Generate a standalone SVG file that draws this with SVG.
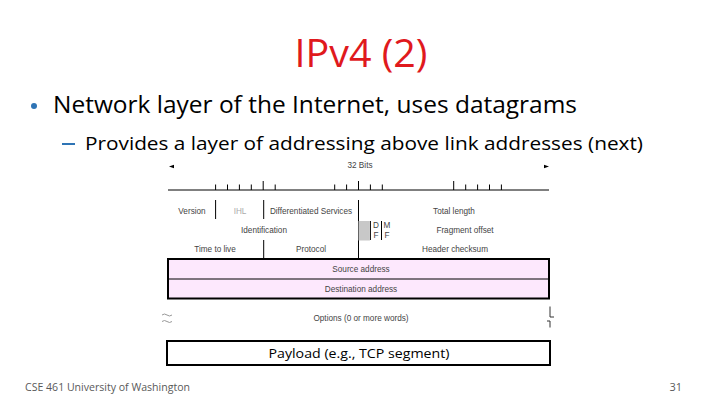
<svg xmlns="http://www.w3.org/2000/svg" width="720" height="405" viewBox="0 0 720 405">
<style>
  .title{font-family:"Open Sans","Noto Sans",sans-serif;font-size:39px;fill:#e0191d}
  .b1{font-family:"Open Sans","Noto Sans",sans-serif;font-size:23px;fill:#000}
  .b2{font-family:"Open Sans","Noto Sans",sans-serif;font-size:19px;fill:#000}
  .f{font-family:"Liberation Sans",Arial,sans-serif;font-size:8.2px;fill:#444;text-anchor:middle}
  .lt{fill:#aaa}
  .tk{stroke:#000;stroke-width:1}
  .dv{stroke:#000;stroke-width:1}
  .foot{font-family:"Open Sans","Noto Sans",sans-serif;font-size:11px;fill:#595959}
  .box{stroke:#000;stroke-width:2}
</style>
<rect width="720" height="405" fill="#fff"/>
<g id="title"><text class="title" x="361" y="67" text-anchor="middle" textLength="133" lengthAdjust="spacingAndGlyphs">IPv4 (2)</text></g>
<g id="bullet1">
  <circle cx="34" cy="106" r="3" fill="#2e74b5"/>
  <text class="b1" x="53" y="113" textLength="524" lengthAdjust="spacingAndGlyphs">Network layer of the Internet, uses datagrams</text>
</g>
<g id="bullet2">
  <rect x="62" y="143" width="13" height="2" fill="#2e74b5"/>
  <text class="b2" x="85" y="150" textLength="558" lengthAdjust="spacingAndGlyphs">Provides a layer of addressing above link addresses (next)</text>
</g>
<g id="ruler">
  <text class="f" x="360" y="168">32 Bits</text>
  <polygon points="169,166.5 174,164.8 174,168.2" fill="#000"/>
  <polygon points="549,166.5 544,164.8 544,168.2" fill="#000"/>
  <line class="tk" x1="168" y1="190" x2="549" y2="190"/>
  <g class="tk">
    <line x1="215.6" y1="184.5" x2="215.6" y2="190"/>
    <line x1="227.5" y1="184.5" x2="227.5" y2="190"/>
    <line x1="239.4" y1="184.5" x2="239.4" y2="190"/>
    <line x1="251.3" y1="184.5" x2="251.3" y2="190"/>
    <line x1="263.2" y1="181" x2="263.2" y2="190"/>
    <line x1="275.2" y1="184.5" x2="275.2" y2="190"/>
    <line x1="334.7" y1="184.5" x2="334.7" y2="190"/>
    <line x1="346.6" y1="184.5" x2="346.6" y2="190"/>
    <line x1="358.5" y1="181" x2="358.5" y2="190"/>
    <line x1="370.4" y1="184.5" x2="370.4" y2="190"/>
    <line x1="382.3" y1="184.5" x2="382.3" y2="190"/>
    <line x1="453.7" y1="181" x2="453.7" y2="190"/>
    <line x1="465.7" y1="184.5" x2="465.7" y2="190"/>
    <line x1="477.6" y1="184.5" x2="477.6" y2="190"/>
    <line x1="489.5" y1="184.5" x2="489.5" y2="190"/>
    <line x1="501.4" y1="184.5" x2="501.4" y2="190"/>
  </g>
</g>
<g id="header-fields">
  <g class="dv">
    <line x1="215.6" y1="200" x2="215.6" y2="219"/>
    <line x1="263.7" y1="200" x2="263.7" y2="219"/>
    <line x1="358.5" y1="200" x2="358.5" y2="259"/>
    <line x1="263.7" y1="240" x2="263.7" y2="259"/>
    <line x1="370.4" y1="221" x2="370.4" y2="240"/>
    <line x1="381.5" y1="221" x2="381.5" y2="240"/>
  </g>
  <rect x="358.5" y="221" width="11.4" height="19.5" fill="#c8c8c8"/>
  <text class="f" x="192" y="214">Version</text>
  <text class="f lt" x="240" y="214">IHL</text>
  <text class="f" x="311" y="214">Differentiated Services</text>
  <text class="f" x="454" y="214">Total length</text>
  <text class="f" x="264" y="233">Identification</text>
  <text class="f" x="376" y="228">D</text>
  <text class="f" x="376" y="238">F</text>
  <text class="f" x="387" y="228">M</text>
  <text class="f" x="387" y="238">F</text>
  <text class="f" x="465" y="233">Fragment offset</text>
  <text class="f" x="215" y="252">Time to live</text>
  <text class="f" x="311" y="252">Protocol</text>
  <text class="f" x="455" y="252">Header checksum</text>
</g>
<g id="addresses">
  <rect class="box" x="168" y="259" width="381" height="39.5" fill="#fde8fd"/>
  <line x1="168" y1="279" x2="549" y2="279" stroke="#000" stroke-width="1"/>
  <text class="f" x="361" y="272">Source address</text>
  <text class="f" x="361" y="292">Destination address</text>
</g>
<g id="options">
  <path d="M162,315 q2.5,-2 5,0 t5,0 M162,321.5 q2.5,-2 5,0 t5,0" fill="none" stroke="#999" stroke-width="1"/>
  <path d="M550,306.5 V317 H554 M547,321 H550 V327.5" fill="none" stroke="#333" stroke-width="1"/>
  <text class="f" x="361" y="321">Options (0 or more words)</text>
</g>
<g id="payload">
  <rect class="box" x="167" y="341" width="383" height="24" fill="#fff"/>
  <text x="359" y="358" text-anchor="middle" font-family="'Open Sans','Noto Sans',sans-serif" font-size="12.5" fill="#000" textLength="181" lengthAdjust="spacingAndGlyphs">Payload (e.g., TCP segment)</text>
</g>
<g id="footer">
  <text class="foot" x="25" y="391" textLength="165" lengthAdjust="spacingAndGlyphs">CSE 461 University of Washington</text>
  <text class="foot" x="682" y="391" text-anchor="end">31</text>
</g>
</svg>
